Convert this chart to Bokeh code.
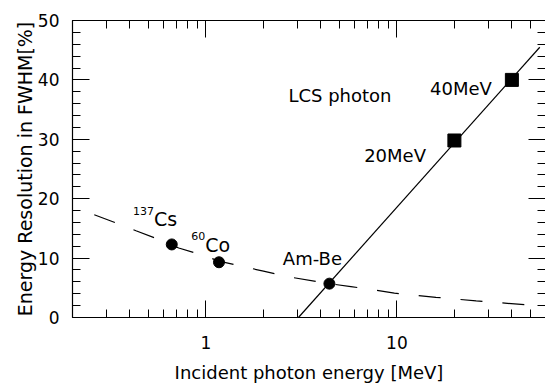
from bokeh.plotting import figure
from bokeh.models import (LogAxis, LinearAxis, FixedTicker, SingleIntervalTicker,
                          Range1d, BasicTickFormatter)
from bokeh.core.properties import value
from bokeh.embed import file_html
from bokeh.resources import INLINE

# ---- data ----
fit_energy = [0.26, 0.34, 0.43, 0.56, 0.66, 0.72, 0.94, 1.17, 2.0, 2.65,
              4.42, 5.74, 7.4, 9.7, 16, 26, 59]
fit_resolution = [17.3, 15.9, 14.6, 13.2, 12.2, 11.7, 10.6, 9.5, 7.8, 6.9,
                  5.7, 5.2, 4.7, 4.1, 3.4, 2.8, 1.9]

source_names = ["137Cs", "60Co", "Am-Be"]
source_energy = [0.662, 1.17, 4.43]
source_resolution = [12.3, 9.3, 5.7]

lcs_names = ["20MeV", "40MeV"]
lcs_energy = [20, 40]
lcs_resolution = [29.8, 40.0]

lcs_line_energy = [3.05, 56]
lcs_line_resolution = [0, 45.5]

x_major_ticks = [1, 10]
x_minor_ticks = [0.2, 0.3, 0.4, 0.5, 0.6, 0.7, 0.8, 0.9,
                 2, 3, 4, 5, 6, 7, 8, 9, 20, 30, 40, 50]

FONT = "DejaVu Sans"

p = figure(width=545, height=385, x_axis_type="log",
           x_range=Range1d(0.2, 60), y_range=Range1d(0, 50),
           output_backend="svg", toolbar_location=None,
           min_border_left=72, min_border_top=20, min_border_bottom=67,
           min_border_right=0)
p.outline_line_color = None
p.xgrid.visible = False
p.ygrid.visible = False
p.background_fill_color = "white"
p.border_fill_color = "white"


def style_axis(ax, show_labels=True, line=True):
    ax.axis_line_color = "black" if line else None
    ax.axis_line_width = 1.2
    ax.major_tick_in = 17
    ax.major_tick_out = 0
    ax.minor_tick_in = 8
    ax.minor_tick_out = 0
    ax.major_tick_line_color = "black"
    ax.minor_tick_line_color = "black"
    ax.major_tick_line_width = 1
    ax.minor_tick_line_width = 1
    ax.major_label_text_font = FONT
    if show_labels:
        ax.major_label_text_font_size = "17px"
        ax.major_label_text_color = "black"
    else:
        ax.major_label_text_font_size = "1px"
        ax.major_label_text_color = None
        ax.major_label_standoff = 0


xax = p.below[0]
xax.ticker = FixedTicker(ticks=x_major_ticks, minor_ticks=x_minor_ticks)
xax.formatter = BasicTickFormatter()
style_axis(xax)
xax.major_label_standoff = 18
xax.axis_label = "Incident photon energy [MeV]"
xax.axis_label_text_font = FONT
xax.axis_label_text_font_size = "18px"
xax.axis_label_text_font_style = "normal"
xax.axis_label_text_color = "black"
xax.axis_label_standoff = 10

yax = p.left[0]
yax.ticker = SingleIntervalTicker(interval=10, num_minor_ticks=5)
style_axis(yax)
yax.major_label_standoff = 13
yax.axis_label = "Energy Resolution in FWHM[%]"
yax.axis_label_text_font = FONT
yax.axis_label_text_font_size = "19px"
yax.axis_label_text_font_style = "normal"
yax.axis_label_text_color = "black"
yax.axis_label_standoff = -1

top = LogAxis(ticker=FixedTicker(ticks=x_major_ticks, minor_ticks=x_minor_ticks),
              formatter=BasicTickFormatter())
style_axis(top, show_labels=False)
p.add_layout(top, "above")

right = LinearAxis(ticker=SingleIntervalTicker(interval=10, num_minor_ticks=5))
style_axis(right, show_labels=False, line=False)
p.add_layout(right, "right")

# dashed fit curve
p.line(fit_energy, fit_resolution, line_color="black", line_width=1.2,
       line_dash="22 20")
# LCS solid line
p.line(lcs_line_energy, lcs_line_resolution, line_color="black", line_width=1.2)

# markers
p.scatter(source_energy, source_resolution, marker="circle", size=11,
          fill_color="black", line_color="black")
p.scatter(lcs_energy, lcs_resolution, marker="square", size=13,
          fill_color="black", line_color="black")

# labels
txt = dict(text_font=value(FONT), text_color="black", text_baseline="alphabetic")
p.text(x=[5.03], y=[37.3], text=["LCS photon"], text_font_size="18px",
       text_align="center", **txt)
p.text(x=[31.4], y=[38.6], text=[lcs_names[1]], text_font_size="18px",
       text_align="right", **txt)
p.text(x=[14.2], y=[27.2], text=[lcs_names[0]], text_font_size="18px",
       text_align="right", **txt)
p.text(x=[3.61], y=[10.0], text=[source_names[2]], text_font_size="18px",
       text_align="center", **txt)
p.text(x=[0.535, 0.99], y=[16.6, 12.27], text=["Cs", "Co"],
       text_font_size="19px", text_align="left", **txt)
p.text(x=[0.535, 0.99], y=[17.9, 13.7], text=["137", "60"],
       text_font_size="11px", text_align="right", **txt)

open("out.html", "w").write(file_html(p, INLINE))
